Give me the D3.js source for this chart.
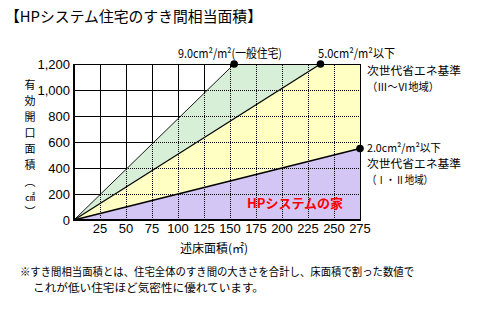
<!DOCTYPE html>
<html><head><meta charset="utf-8">
<script src="https://cdn.jsdelivr.net/npm/d3@7"></script>
<style>body{margin:0;background:#fff;}svg{display:block;}</style>
</head><body>
<script>
const title = "【HPシステム住宅のすき間相当面積】";
const xTicks = [25,50,75,100,125,150,175,200,225,250,275];
const yTicks = [0,200,400,600,800,1000,1200];
const yTickLabels = ["0","200","400","600","800","1,000","1,200"];
// series: end points of lines from origin (floor area m², opening area cm²)
const seriesX = [154, 237, 275];
const seriesY = [1200, 1200, 550];
const seriesLabels = ["9.0cm²/m²(一般住宅)", "5.0cm²/m²以下", "2.0cm²/m²以下"];
const yTitleChars = ["有","効","開","口","面","積","︵","㎠","︶"];
const xTitle = "述床面積(㎡)";
const redLabel = "HPシステムの家";
const footnote = ["※すき間相当面積とは、住宅全体のすき間の大きさを合計し、床面積で割った数値で",
                  "これが低い住宅ほど気密性に優れています。"];

const W = 481, H = 315;
const svg = d3.select("body").append("svg").attr("width", W).attr("height", H);
const x = d3.scaleLinear().domain([0, 275]).range([74, 360]);
const y = d3.scaleLinear().domain([0, 1200]).range([220, 64]);
const jp = "'Noto Sans CJK JP','Noto Sans',sans-serif";
const num = "'Liberation Sans',Arial,sans-serif";

const defs = svg.append("defs");
defs.append("clipPath").attr("id", "plot").append("rect")
  .attr("x", x(0)).attr("y", y(1200)).attr("width", x(275) - x(0)).attr("height", y(0) - y(1200));

const g = svg.append("g").attr("shape-rendering", "crispEdges");
// solid grid
xTicks.forEach(t => g.append("line").attr("x1", Math.round(x(t)) + 0.5).attr("x2", Math.round(x(t)) + 0.5)
  .attr("y1", y(0)).attr("y2", y(1200)).attr("stroke", "#000"));
yTicks.forEach(t => g.append("line").attr("y1", Math.round(y(t)) + 0.5).attr("y2", Math.round(y(t)) + 0.5)
  .attr("x1", x(0)).attr("x2", x(275)).attr("stroke", "#000"));

// areas
const o = [x(0), y(0)];
const pts = seriesX.map((v, i) => [x(v), y(seriesY[i])]);
const poly = (arr, fill) => svg.append("polygon").attr("points", arr.map(p => p.join(",")).join(" "))
  .attr("fill", fill).attr("clip-path", "url(#plot)");
poly([o, pts[0], pts[1]], "#d6efd6");
poly([o, pts[1], [x(275), y(1200)], pts[2]], "#ffffc4");
poly([o, pts[2], [x(275), y(0)]], "#d4c6f4");

// dotted grid on top
const gd = svg.append("g").attr("shape-rendering", "crispEdges").attr("clip-path", "url(#plot)");
xTicks.forEach(t => gd.append("line").attr("x1", Math.round(x(t)) + 0.5).attr("x2", Math.round(x(t)) + 0.5)
  .attr("y1", y(0)).attr("y2", y(1200)).attr("stroke", "#000").attr("stroke-dasharray", "1,1"));
yTicks.forEach(t => gd.append("line").attr("y1", Math.round(y(t)) + 0.5).attr("y2", Math.round(y(t)) + 0.5)
  .attr("x1", x(0)).attr("x2", x(275)).attr("stroke", "#000").attr("stroke-dasharray", "1,1"));

// lines
const widths = [0.9, 1.2, 1.6];
pts.forEach((p, i) => svg.append("line").attr("x1", o[0]).attr("y1", o[1]).attr("x2", p[0]).attr("y2", p[1])
  .attr("stroke", "#000").attr("stroke-width", widths[i]));

// frame
const f = svg.append("g").attr("shape-rendering", "crispEdges");
f.append("line").attr("x1", x(0)).attr("x2", x(275)).attr("y1", y(1200) + 0.5).attr("y2", y(1200) + 0.5).attr("stroke", "#000");
f.append("line").attr("x1", x(275) + 0.5).attr("x2", x(275) + 0.5).attr("y1", y(1200)).attr("y2", y(0)).attr("stroke", "#000");
f.append("line").attr("x1", x(0) - 1).attr("x2", x(275) + 1).attr("y1", y(0)).attr("y2", y(0)).attr("stroke", "#000").attr("stroke-width", 2);
f.append("line").attr("x1", x(0)).attr("x2", x(0)).attr("y1", y(1200)).attr("y2", y(0) + 1).attr("stroke", "#000").attr("stroke-width", 2);

// markers
pts.forEach(p => svg.append("circle").attr("cx", p[0]).attr("cy", p[1]).attr("r", 3.8).attr("fill", "#000"));

// tick labels
yTicks.forEach((t, i) => svg.append("text").attr("x", 70).attr("y", y(t) + 5).attr("text-anchor", "end")
  .attr("font-family", num).attr("font-size", 13).text(yTickLabels[i]));
xTicks.forEach(t => svg.append("text").attr("x", x(t)).attr("y", 233).attr("text-anchor", "middle")
  .attr("font-family", num).attr("font-size", 13).text(t));

// titles
svg.append("text").attr("x", 5).attr("y", 22).attr("font-family", jp).attr("font-size", 15)
  .attr("textLength", 257).attr("lengthAdjust", "spacingAndGlyphs").text(title);
svg.append("text").attr("x", 214).attr("y", 253).attr("text-anchor", "middle").attr("font-family", jp)
  .attr("font-size", 12).text(xTitle);
const yc = [85, 101, 117, 133, 149, 165, 182, 197, 212];
yTitleChars.forEach((c, i) => svg.append("text").attr("x", 30).attr("y", yc[i] + 4).attr("text-anchor", "middle")
  .attr("font-family", jp).attr("font-size", c === "㎠" ? 10 : 11).text(c));

// annotations
function txt(s, xx, yy, len, fs) {
  const t = svg.append("text").attr("x", xx).attr("y", yy).attr("font-family", jp).attr("font-size", fs || 11).text(s);
  if (len) t.attr("textLength", len).attr("lengthAdjust", "spacingAndGlyphs");
  return t;
}
txt(seriesLabels[0], 178, 58, 104, 12);
txt(seriesLabels[1], 318, 58, 77, 12);
txt("次世代省エネ基準", 367, 75, 94);
txt("（Ⅲ～Ⅵ地域）", 367, 91, 72);
txt(seriesLabels[2], 367, 152, 74);
txt("次世代省エネ基準", 367, 168, 94);
txt("（Ⅰ・Ⅱ地域）", 367, 184, 66);

svg.append("text").attr("x", 295).attr("y", 208).attr("text-anchor", "middle").attr("font-family", jp)
  .attr("font-size", 13).attr("font-weight", "bold").attr("fill", "#ff0000").text(redLabel);

txt(footnote[0], 20, 276, 394);
txt(footnote[1], 33, 292, 231);
</script>
</body></html>
